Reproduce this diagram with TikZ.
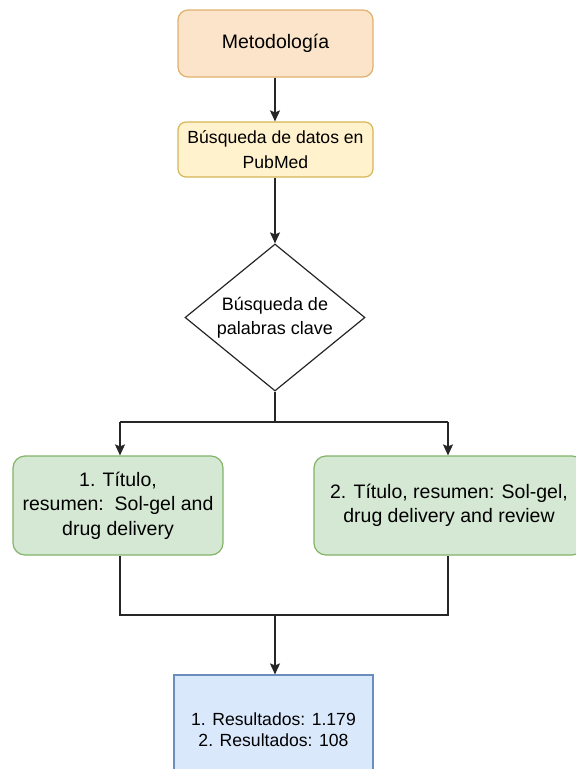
\documentclass[tikz,border=0pt]{standalone}
\usepackage{fontspec}
\setmainfont{Liberation Sans}
\usetikzlibrary{arrows.meta,shapes.geometric}

\definecolor{orfill}{HTML}{FCE4CA}
\definecolor{ordraw}{HTML}{E0B06E}
\definecolor{yefill}{HTML}{FFF2CC}
\definecolor{yedraw}{HTML}{D6B656}
\definecolor{grfill}{HTML}{D5E8D4}
\definecolor{grdraw}{HTML}{82B366}
\definecolor{blfill}{HTML}{DAE8FC}
\definecolor{bldraw}{HTML}{6C8EBF}
\definecolor{linec}{HTML}{262626}

\tikzset{
  x=1pt, y=-1pt,
  basebox/.style={draw, line width=1.2pt, inner sep=0pt, align=center,
    font=\fontsize{19.5}{24.5}\selectfont},
  orbox/.style={basebox, fill=orfill, draw=ordraw, rounded corners=10pt,
    minimum width=195pt, minimum height=67pt},
  yebox/.style={basebox, fill=yefill, draw=yedraw, rounded corners=8pt,
    minimum width=195pt, minimum height=55pt,
    font=\fontsize{17.6}{24.5}\selectfont},
  grbox/.style={basebox, fill=grfill, draw=grdraw, rounded corners=12pt,
    minimum height=99pt},
  blbox/.style={basebox, fill=blfill, draw=bldraw,
    minimum width=199pt, minimum height=110pt,
    font=\fontsize{17.6}{21}\selectfont},
  decision/.style={diamond, aspect=1.22, draw=linec, line width=1.2pt,
    inner sep=-3pt, minimum width=180pt, minimum height=147pt, align=center,
    font=\fontsize{18}{24.5}\selectfont},
  conn/.style={draw=linec, line width=1.4pt},
  arr/.style={conn, -{Stealth[length=11pt,width=10pt,inset=2pt]}},
}

\begin{document}
\begin{tikzpicture}
  \useasboundingbox (0,0) rectangle (576,769);

  \node[orbox] (meth) at (275.5,43.5) {Metodología};
  \node[yebox] (search) at (275.5,149.5) {Búsqueda de datos en\\PubMed};
  \node[decision] (keys) at (275,317.5) {Búsqueda de\\palabras clave};

  \node[grbox, minimum width=210pt] (opt1) at (118,505.5)
    {1. Título,\\resumen:\ \ Sol-gel and\\drug delivery};
  \node[grbox, minimum width=270pt] (opt2) at (449,505.5)
    {2. Título, resumen: Sol-gel,\\drug delivery and review};

  \node[blbox] (res) at (273.5,730)
    {1. Resultados: 1.179\\2. Resultados: 108};

  % branching and merging points
  \coordinate (split) at (275,422);
  \coordinate (splitL) at (120,422);
  \coordinate (splitR) at (448,422);
  \coordinate (merge) at (275,615);
  \coordinate (mergeL) at (120,615);
  \coordinate (mergeR) at (448,615);

  \draw[arr] (meth.south -| keys) -- (search.north -| keys);
  \draw[arr] (search.south -| keys) -- (keys.north);
  \draw[conn] (keys.south) -- (split);
  \draw[conn] (splitL) -- (splitR);
  \draw[arr] (splitL) -- (opt1.north -| splitL);
  \draw[arr] (splitR) -- (opt2.north -| splitR);
  \draw[conn] (opt1.south -| mergeL) -- (mergeL) -- (mergeR) -- (opt2.south -| mergeR);
  \draw[arr] (merge) -- (res.north -| merge);
\end{tikzpicture}
\end{document}
